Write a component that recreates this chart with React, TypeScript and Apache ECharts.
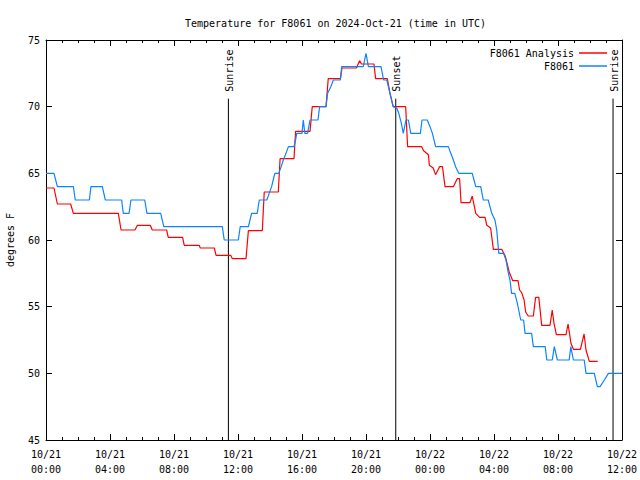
import React, { useEffect, useRef } from "react";
import * as echarts from "echarts";

const titleText = "Temperature for F8061 on 2024-Oct-21 (time in UTC)";
const seriesNames = ["F8061 Analysis", "F8061"];
const seriesColors = ["#ff0000", "#0c84ff"];
const yAxisName = "degrees F";
const dayLabels = ["10/21", "10/22"];

// hours since 10/21 00:00 UTC
const analysisHours = [
  0, 0.5, 0.71, 1.54, 1.71, 4.52, 4.69, 5.56, 5.71, 6.52, 6.64, 7.54, 7.64, 8.54, 8.64, 9.58,
  9.64, 10.52, 10.63, 11.54, 11.65, 12.5, 12.65, 13.52, 13.64, 14.52, 14.63, 15.5, 15.6, 16.5,
  16.64, 17.5, 17.64, 18.4, 18.5, 19.4, 19.6, 19.72, 20.5, 20.6, 21.33, 21.5, 21.7, 22.48, 22.6,
  23.48, 23.6, 23.9, 23.96, 24.2, 24.35, 24.6, 24.78, 24.94, 25.46, 25.7, 25.85, 25.94, 26.5,
  26.64, 26.86, 27.1, 27.44, 27.55, 27.79, 27.96, 28.48, 28.7, 28.95, 29.17, 29.5, 29.6, 29.73,
  29.88, 29.98, 30.14, 30.46, 30.6, 30.8, 30.98, 31.5, 31.64, 31.75, 31.9, 32.5, 32.63, 32.81,
  32.96, 33.4, 33.63, 33.75, 33.96, 34.48,
];
const analysisTemps = [
  63.9, 63.9, 62.7, 62.7, 62.0, 62.0, 60.75, 60.75, 61.1, 61.1, 60.75, 60.75, 60.2, 60.2, 59.6, 59.6,
  59.4, 59.4, 58.85, 58.85, 58.6, 58.6, 60.7, 60.7, 63.6, 63.6, 66.1, 66.1, 68.15, 68.15,
  70.0, 70.0, 72.1, 72.1, 72.9, 72.9, 73.45, 73.2, 73.2, 72.1, 72.1, 71.0, 70.0, 70.0, 67.0,
  67.0, 66.7, 66.4, 65.6, 65.4, 64.9, 65.5, 65.5, 64.0, 64.0, 64.6, 64.6, 62.8, 62.8,
  63.3, 62.0, 61.7, 61.7, 61.1, 60.9, 59.3, 59.3, 58.8, 57.6, 56.95, 56.95, 56.25, 56.05,
  55.5, 54.6, 54.3, 54.3, 55.7, 55.7, 53.6, 53.6, 54.75, 53.75, 52.9, 52.9, 53.7, 52.25,
  51.8, 51.8, 52.95, 51.75, 50.9, 50.9,
];

const obsHours = [
  0, 0.5, 0.71, 1.71, 1.83, 2.71, 2.81, 3.52, 3.71, 4.73, 4.83, 5.19, 5.31, 6.17, 6.31, 7.17,
  7.36, 11.02, 11.14, 12.02, 12.14, 12.65, 12.75, 12.85, 13.2, 13.33, 13.8, 13.95, 14.1, 14.2,
  14.3, 14.55, 14.7, 14.83, 15.0, 15.15, 15.5, 15.6, 15.67, 16.0, 16.08, 16.18, 16.35, 16.5,
  17.0, 17.1, 17.5, 17.6, 17.8, 17.96, 18.4, 18.48, 19.83, 20.0, 20.15, 20.94, 21.1, 21.3,
  21.5, 21.7, 21.92, 22.05, 22.2, 22.33, 22.5, 22.65, 22.8, 23.4, 23.5, 23.83, 24.0, 24.15,
  24.35, 25.15, 25.3, 25.46, 25.6, 25.8, 26.64, 26.75, 26.86, 27.17, 27.33, 27.64, 27.86,
  28.06, 28.17, 28.3, 28.6, 28.75, 28.9, 29.0, 29.1, 29.3, 29.45, 29.67, 29.85, 29.94, 30.35,
  30.46, 31.2, 31.3, 31.64, 31.77, 31.96, 32.7, 32.8, 32.96, 33.64, 33.75, 34.27, 34.46,
  34.63, 34.9, 35.15, 36.0,
];
const obsTemps = [
  65, 65, 64, 64, 63, 63, 64, 64, 63, 63, 62, 62, 63, 63, 62, 62,
  61, 61, 60, 60, 61, 61, 61.5, 62, 62, 63, 63, 63.5, 64, 64.5,
  65, 65, 65.5, 66, 66.5, 67, 67, 67.5, 68, 68, 69, 68, 68, 69,
  69, 70, 70, 71, 71.5, 72, 72, 73, 73, 74, 73, 73, 72, 72,
  71, 70, 69.9, 69.5, 68.8, 68, 69, 69, 68, 68, 69, 69, 68.5, 68,
  67, 67, 66.5, 66, 65.5, 65, 65, 64.5, 64, 64, 63, 63, 62,
  61.5, 60.75, 59, 59, 58.5, 57.5, 57, 56, 56, 55.3, 54, 54, 53, 53,
  52, 52, 51, 51, 52, 51, 51, 52, 51, 51, 50, 50, 49,
  49, 49.5, 50, 50,
];

const sunEventHours = [11.4, 21.86, 35.44];
const sunEventNames = ["Sunrise", "Sunset", "Sunrise"];
const sunLineRange = [45, 70.6];

const FONT = "'DejaVu Sans Mono', 'Liberation Mono', monospace";

function hourLabel(v: number): string {
  const day = v < 24 ? dayLabels[0] : dayLabels[1];
  const hh = Math.round(v % 24);
  return `${day}\n${hh < 10 ? "0" + hh : hh}:00`;
}

export default function App() {
  const ref = useRef<HTMLDivElement>(null);
  useEffect(() => {
    if (!ref.current) return;
    const chart = echarts.init(ref.current, null, { renderer: "svg" });

    const xBase = {
      type: "value" as const,
      min: 0,
      max: 36,
      interval: 4,
      splitLine: { show: false },
      axisLine: { show: true, onZero: false, lineStyle: { color: "#000", width: 1 } },
      axisTick: { show: true, inside: true, length: 6, lineStyle: { color: "#000" } },
      minorTick: { show: true, splitNumber: 4, length: 3, lineStyle: { color: "#000" } },
    };
    const yBase = {
      type: "value" as const,
      min: 45,
      max: 75,
      interval: 5,
      splitLine: { show: false },
      axisLine: { show: true, onZero: false, lineStyle: { color: "#000", width: 1 } },
      axisTick: { show: true, inside: true, length: 6, lineStyle: { color: "#000" } },
    };

    const sunSeries = sunEventHours.map((h, i) => ({
      type: "line" as const,
      name: "sun" + i,
      xAxisIndex: 0,
      yAxisIndex: 0,
      silent: true,
      symbol: "none",
      showSymbol: false,
      lineStyle: { color: "#000", width: 1 },
      z: 1,
      data: [
        [h, sunLineRange[0]],
        [h, sunLineRange[1]],
      ],
    }));

    const legendCommon = {
      right: 28,
      align: "right" as const,
      itemWidth: 28,
      itemHeight: 1.5,
      icon: "rect",
      textStyle: { fontFamily: FONT, fontSize: 10, color: "#000" },
    };

    chart.setOption({
      animation: false,
      backgroundColor: "#fff",
      title: {
        text: titleText,
        left: 180,
        top: 13,
        textStyle: { fontFamily: FONT, fontSize: 10, fontWeight: "normal", color: "#000" },
      },
      legend: [
        { ...legendCommon, data: [seriesNames[0]], top: 43 },
        { ...legendCommon, data: [seriesNames[1]], top: 56 },
      ],
      grid: { left: 46, right: 18, top: 40, bottom: 40, containLabel: false, outerBoundsMode: "none" },
      xAxis: [
        {
          ...xBase,
          position: "bottom",
          axisLabel: {
            show: true,
            formatter: hourLabel,
            fontFamily: FONT,
            fontSize: 10,
            color: "#000",
            margin: 7,
            lineHeight: 15,
          },
        },
        { ...xBase, position: "top", axisLabel: { show: false } },
      ],
      yAxis: [
        {
          ...yBase,
          position: "left",
          name: yAxisName,
          nameLocation: "middle",
          nameRotate: 90,
          nameGap: 31,
          nameTextStyle: { fontFamily: FONT, fontSize: 10, color: "#000" },
          axisLabel: { fontFamily: FONT, fontSize: 10, color: "#000", margin: 6 },
        },
        { ...yBase, position: "right", axisLabel: { show: false } },
      ],
      series: [
        ...sunSeries,
        {
          type: "line",
          name: seriesNames[0],
          data: analysisHours.map((h, i) => [h, analysisTemps[i]]),
          symbol: "none",
          showSymbol: false,
          color: seriesColors[0],
          lineStyle: { color: seriesColors[0], width: 1.2 },
          z: 2,
        },
        {
          type: "line",
          name: seriesNames[1],
          data: obsHours.map((h, i) => [h, obsTemps[i]]),
          symbol: "none",
          showSymbol: false,
          color: seriesColors[1],
          lineStyle: { color: seriesColors[1], width: 1.2 },
          z: 3,
        },
      ],
    });

    const graphics = sunEventHours.map((h, i) => {
      const p = chart.convertToPixel({ xAxisIndex: 0, yAxisIndex: 0 }, [h, sunLineRange[1]]) as number[];
      return {
        type: "text",
        x: p[0] + 1,
        y: p[1] - 7,
        rotation: Math.PI / 2,
        silent: true,
        style: {
          text: sunEventNames[i],
          fill: "#000",
          font: `10px ${FONT}`,
          align: "left",
          verticalAlign: "middle",
          textAlign: "left",
          textVerticalAlign: "middle",
        },
      };
    });
    chart.setOption({ graphic: graphics });

    return () => chart.dispose();
  }, []);
  return <div ref={ref} style={{ width: 640, height: 480, position: "absolute", left: 0, top: 0 }} />;
}
